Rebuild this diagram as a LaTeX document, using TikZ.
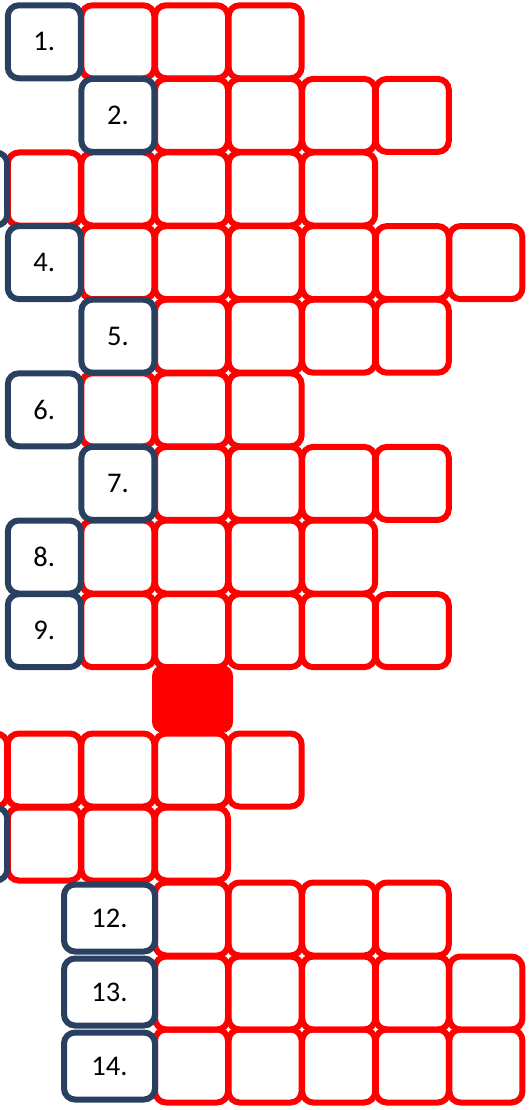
\documentclass[tikz,border=0pt]{standalone}
\usepackage{fontspec}
\setmainfont{Carlito}
\definecolor{navy}{RGB}{42,64,96}
\begin{document}
\begin{tikzpicture}[x=1pt,y=-1pt,
  redcell/.style={draw=red,line width=6pt,rounded corners=11pt,minimum width=73pt,minimum height=73pt,inner sep=0pt,outer sep=0pt},
  numbox/.style={draw=navy,fill=white,line width=6pt,rounded corners=11pt,minimum width=73pt,minimum height=73pt,inner sep=0pt,outer sep=0pt,font=\fontsize{28.5}{32}\selectfont},
  widebox/.style={numbox,minimum width=91pt,minimum height=67pt},
  blockcell/.style={fill=red,rounded corners=11pt,minimum width=81pt,minimum height=68pt,inner sep=0pt,outer sep=0pt}]
\useasboundingbox (0,0) rectangle (528,1110);
\clip (0,0) rectangle (528,1110);
% red answer cells: row / y / first column / last column
\foreach \r/\y/\a/\b in {1/41.8/1/3, 2/115.4/2/5, 3/189/0/4, 4/262.6/1/6, 5/336.2/2/5,
  6/409.8/1/3, 7/483.4/2/5, 8/557/1/4, 9/630.6/1/5,
  10/770/-1/3, 11/844/0/2, 12/919/2/5, 13/993/2/6, 14/1066/2/6}{
  \foreach \c in {\a,...,\b}{
    \node[redcell] (r\r c\c) at ({44.3+73.6*\c},\y) {};
  }
}
% filled block
\node[blockcell] (blk) at (192.5,699) {};
% numbered boxes
\node[numbox] (n1) at (44.3,41.8) {1.};
\node[numbox] (n2) at (117.9,115.4) {2.};
\node[numbox] (n3) at (-29.3,189) {};
\node[numbox] (n4) at (44.3,262.6) {4.};
\node[numbox] (n5) at (117.9,336.2) {5.};
\node[numbox] (n6) at (44.3,409.8) {6.};
\node[numbox] (n7) at (117.9,483.4) {7.};
\node[numbox] (n8) at (44.3,557) {8.};
\node[numbox] (n9) at (44.3,630.6) {9.};
\node[numbox] (n11) at (-29.3,844) {};
\node[widebox] (n12) at (109.5,918) {12.};
\node[widebox] (n13) at (109.5,992) {13.};
\node[widebox] (n14) at (109.5,1066) {14.};
\end{tikzpicture}
\end{document}
